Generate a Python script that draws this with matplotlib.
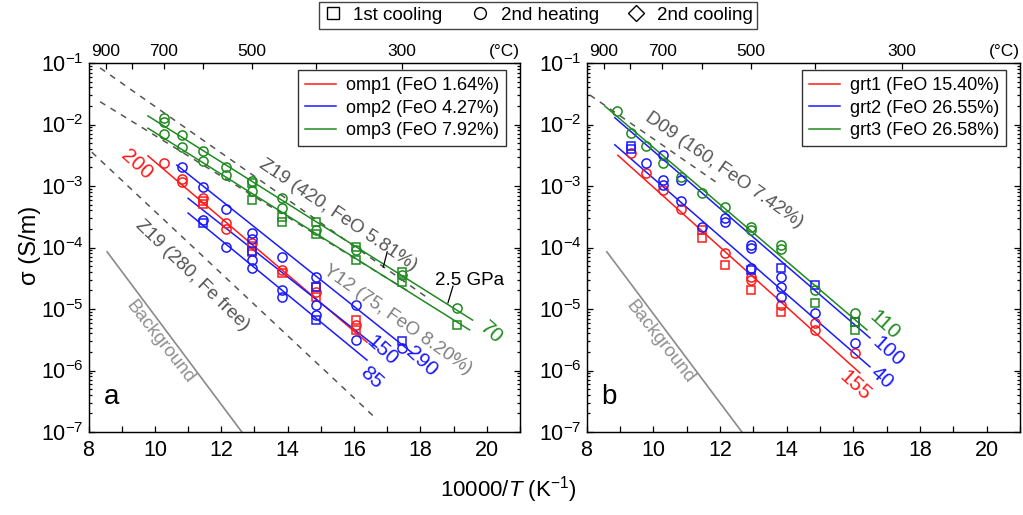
import numpy as np
import matplotlib
matplotlib.use("Agg")
import matplotlib.pyplot as plt
from matplotlib.lines import Line2D
from matplotlib.ticker import MultipleLocator, LogLocator, NullFormatter

plt.rcParams['font.family'] = ['Liberation Sans', 'DejaVu Sans']
plt.rcParams['mathtext.fontset'] = 'custom'
plt.rcParams['mathtext.rm'] = 'Liberation Sans'
plt.rcParams['mathtext.it'] = 'Liberation Sans:italic'

RED, BLUE, GREEN = '#ff1a1a', '#1a1aff', '#1f8a1f'
GRAY_D, GRAY_L = '#555555', '#8a8a8a'

# ---------------- data: panel a (omphacite) ----------------
omp1_circ_x = [10.28, 10.83, 10.83, 11.45, 12.14, 12.14, 12.93, 13.83, 14.86, 16.05]
omp1_circ_log = [-2.63, -2.88, -2.93, -3.20, -3.60, -3.70, -3.92, -4.37, -4.72, -5.26]
omp1_sq_x = [11.45, 11.45, 12.93, 12.93, 13.83, 14.86, 14.86, 16.05, 16.05]
omp1_sq_log = [-3.24, -3.29, -3.98, -4.07, -4.42, -4.64, -4.80, -5.18, -5.34]

omp2_circ_x = [10.83, 11.45, 11.45, 12.14, 12.14, 12.93, 12.93, 12.93, 12.93, 13.83, 13.83,
               13.83, 14.86, 14.86, 14.86, 16.05, 16.05, 17.45]
omp2_circ_log = [-2.69, -3.02, -3.55, -3.37, -3.99, -3.76, -3.86, -4.20, -4.33, -4.15, -4.69,
                 -4.80, -4.48, -4.93, -5.10, -4.93, -5.50, -5.63]
omp2_sq_x = [11.45, 12.93, 14.86, 14.86, 17.45]
omp2_sq_log = [-3.60, -4.05, -4.65, -5.18, -5.52]

omp3_circ_x = [10.28, 10.28, 10.28, 10.83, 10.83, 11.45, 11.45, 12.14, 12.14, 12.93, 12.93,
               13.83, 13.83, 14.86, 16.05, 17.45, 19.11]
omp3_circ_log = [-1.90, -1.96, -2.15, -2.17, -2.37, -2.43, -2.59, -2.69, -2.82, -2.92, -3.08,
                 -3.20, -3.36, -3.72, -4.04, -4.45, -4.98]
omp3_sq_x = [12.93, 12.93, 13.83, 13.83, 14.86, 14.86, 16.05, 16.05, 17.45, 17.45, 19.11]
omp3_sq_log = [-2.95, -3.23, -3.50, -3.58, -3.59, -3.78, -3.99, -4.20, -4.40, -4.56, -5.26]

# fit lines: (x0, x1, log0, log1)
omp1_fit = [(9.79, 16.39, -2.51, -5.54)]
omp2_fit = [(10.66, 17.77, -2.66, -5.72), (11.0, 16.68, -3.20, -5.62), (11.0, 16.39, -3.44, -5.83)]
omp3_fit = [(9.79, 19.57, -1.86, -5.18), (9.79, 19.48, -2.06, -5.34)]

refA_dashed = [(8.35, 18.3, -1.08, -4.85),   # Z19 (420)
               (8.35, 17.6, -1.63, -4.70),   # Y12 (75)
               (8.10, 16.7, -2.45, -6.80)]   # Z19 (280)
bgA = (8.56, 12.62, -4.07, -7.0)

# ---------------- data: panel b (garnet) ----------------
grt1_circ_x = [9.32, 9.78, 10.28, 10.83, 12.14, 12.93, 12.93, 13.83, 14.86, 14.86, 16.05]
grt1_circ_log = [-2.46, -2.79, -3.07, -3.37, -4.09, -4.48, -4.53, -4.93, -5.23, -5.34, -5.72]
grt1_sq_x = [11.45, 11.45, 12.14, 12.93, 13.83]
grt1_sq_log = [-3.72, -3.85, -4.28, -4.69, -5.05]

grt2_circ_x = [9.78, 10.28, 10.28, 10.28, 10.83, 10.83, 11.45, 12.14, 12.14, 12.93, 12.93,
               12.93, 13.83, 13.83, 13.83, 14.86, 16.05]
grt2_circ_log = [-2.63, -2.50, -2.90, -2.98, -2.90, -3.24, -3.67, -3.52, -3.58, -3.96, -4.01,
                 -4.33, -4.48, -4.64, -4.80, -5.07, -5.55]
grt2_sq_x = [9.32, 9.32, 12.93, 13.83, 14.86, 16.05]
grt2_sq_log = [-2.35, -2.40, -4.36, -4.33, -4.61, -5.21]

grt3_circ_x = [8.90, 9.32, 9.78, 10.28, 10.83, 11.45, 12.14, 12.93, 12.93, 13.83, 13.83, 14.86, 16.05]
grt3_circ_log = [-1.78, -2.14, -2.35, -2.63, -2.85, -3.11, -3.34, -3.67, -3.72, -3.96, -4.02, -4.69, -5.07]
grt3_sq_x = [14.86, 16.05, 16.05]
grt3_sq_log = [-4.90, -5.21, -5.34]

grt1_fit = [(8.94, 16.20, -2.50, -6.04)]
grt2_fit = [(8.85, 16.50, -1.89, -5.47), (8.85, 16.50, -2.33, -5.94)]
grt3_fit = [(8.55, 16.41, -1.70, -5.34)]

refB_dashed = [(8.10, 12.0, -1.52, -2.98)]   # D09
bgB = (8.61, 12.66, -4.07, -7.0)

top_major_T = [900, 700, 500, 300]
top_minor_T = [800, 600, 400]

legendA = ['omp1 (FeO 1.64%)', 'omp2 (FeO 4.27%)', 'omp3 (FeO 7.92%)']
legendB = ['grt1 (FeO 15.40%)', 'grt2 (FeO 26.55%)', 'grt3 (FeO 26.58%)']

W, H = 1023, 515
fig = plt.figure(figsize=(W / 100, H / 100), dpi=100)
axA = fig.add_axes([88.5 / W, 1 - 432 / H, (520 - 88.5) / W, 369 / H])
axB = fig.add_axes([586.5 / W, 1 - 432 / H, (1020 - 586.5) / W, 369 / H])


def seg(ax, s, **kw):
    x0, x1, l0, l1 = s
    ax.plot([x0, x1], [10 ** l0, 10 ** l1], **kw)


def pts(ax, x, logs, marker, color):
    ax.plot(x, np.power(10.0, logs), ls='none', marker=marker, ms=6.6 if marker == 'o' else 5.8,
            mfc='none', mec=color, mew=1.1, zorder=3)


def style(ax):
    ax.set_yscale('log')
    ax.set_xlim(8, 21)
    ax.set_ylim(1e-7, 1e-1)
    ax.xaxis.set_major_locator(MultipleLocator(2))
    ax.xaxis.set_minor_locator(MultipleLocator(1))
    ax.yaxis.set_major_locator(LogLocator(base=10, numticks=10))
    ax.yaxis.set_minor_locator(LogLocator(base=10, subs=np.arange(2, 10), numticks=10))
    ax.yaxis.set_minor_formatter(NullFormatter())
    ax.tick_params(which='both', direction='in', right=True, top=False, labelsize=15.5, width=0.9)
    ax.tick_params(axis='x', which='both', pad=6)
    ax.tick_params(which='major', length=4.5)
    ax.tick_params(which='minor', length=2.5)
    ax.tick_params(axis='x', which='minor', length=4.5)
    for sp in ax.spines.values():
        sp.set_linewidth(1.0)
        sp.set_color('#222222')
    top = ax.twiny()
    top.set_xlim(8, 21)
    top.set_xticks([10000 / (t + 273.15) for t in top_major_T])
    top.set_xticklabels([str(t) for t in top_major_T])
    top.set_xticks([10000 / (t + 273.15) for t in top_minor_T], minor=True)
    top.tick_params(which='both', direction='in', length=4.5, labelsize=12.5, pad=3, width=0.9)
    ax.text(1.0, 1.011, '(°C)', transform=ax.transAxes, ha='right', va='bottom', fontsize=12.5)


def rtext(ax, x, lg, s, color, rot, fs=15, **kw):
    ax.text(x, 10 ** lg, s, color=color, rotation=rot, ha='center', va='center', fontsize=fs,
            rotation_mode='anchor', **kw)


LEG_KW = dict(loc='upper right', bbox_to_anchor=(0.968, 0.981), fontsize=13, frameon=True,
              fancybox=False, edgecolor='#333333', framealpha=1, handlelength=1.7,
              borderpad=0.4, labelspacing=0.3, handletextpad=0.55, borderaxespad=0)

# ---------- panel a ----------
for s in refA_dashed:
    seg(axA, s, color=GRAY_D, ls=(0, (4, 4)), lw=1.1)
seg(axA, bgA, color=GRAY_L, lw=1.2)
for fits, c in ((omp1_fit, RED), (omp2_fit, BLUE), (omp3_fit, GREEN)):
    for s in fits:
        seg(axA, s, color=c, lw=1.1)
pts(axA, omp1_circ_x, omp1_circ_log, 'o', RED)
pts(axA, omp1_sq_x, omp1_sq_log, 's', RED)
pts(axA, omp2_circ_x, omp2_circ_log, 'o', BLUE)
pts(axA, omp2_sq_x, omp2_sq_log, 's', BLUE)
pts(axA, omp3_circ_x, omp3_circ_log, 'o', GREEN)
pts(axA, omp3_sq_x, omp3_sq_log, 's', GREEN)
style(axA)
axA.legend([Line2D([], [], color=c, lw=1.1) for c in (RED, BLUE, GREEN)], legendA, **LEG_KW)

rtext(axA, 9.46, -2.66, '200', RED, -42)
rtext(axA, 20.14, -5.39, '70', GREEN, -42)
rtext(axA, 16.84, -5.67, '150', BLUE, -42)
rtext(axA, 18.04, -5.86, '290', BLUE, -42)
rtext(axA, 16.53, -6.12, '85', BLUE, -42)
rtext(axA, 15.51, -3.47, 'Z19 (420, FeO 5.81%)', '#555555', -34, fs=13.5)
rtext(axA, 17.31, -5.18, 'Y12 (75, FeO 8.20%)', '#808080', -35, fs=13.5)
rtext(axA, 11.14, -4.45, 'Z19 (280, Fe free)', '#555555', -44, fs=13.5)
rtext(axA, 10.16, -5.54, 'Background', '#909090', -52, fs=13.5)
rtext(axA, 19.48, -4.54, '2.5 GPa', 'black', 0, fs=13.5)
axA.plot([18.98, 18.83], [10 ** -4.63, 10 ** -4.90], color='black', lw=0.9)
axA.plot([17.0, 16.88], [10 ** -4.07, 10 ** -4.32], color='black', lw=0.9)
axA.text(0.035, 0.06, 'a', transform=axA.transAxes, fontsize=20, ha='left', va='bottom')

# ---------- panel b ----------
for s in refB_dashed:
    seg(axB, s, color=GRAY_D, ls=(0, (4, 4)), lw=1.1)
seg(axB, bgB, color=GRAY_L, lw=1.2)
for fits, c in ((grt1_fit, RED), (grt2_fit, BLUE), (grt3_fit, GREEN)):
    for s in fits:
        seg(axB, s, color=c, lw=1.1)
pts(axB, grt1_circ_x, grt1_circ_log, 'o', RED)
pts(axB, grt1_sq_x, grt1_sq_log, 's', RED)
pts(axB, grt2_circ_x, grt2_circ_log, 'o', BLUE)
pts(axB, grt2_sq_x, grt2_sq_log, 's', BLUE)
pts(axB, grt3_circ_x, grt3_circ_log, 'o', GREEN)
pts(axB, grt3_sq_x, grt3_sq_log, 's', GREEN)
style(axB)
axB.legend([Line2D([], [], color=c, lw=1.1) for c in (RED, BLUE, GREEN)], legendB, **LEG_KW)
rtext(axB, 16.95, -5.26, '110', GREEN, -42)
rtext(axB, 17.04, -5.70, '100', BLUE, -42)
rtext(axB, 16.86, -6.11, '40', BLUE, -42)
rtext(axB, 16.05, -6.24, '155', RED, -42)
rtext(axB, 12.12, -2.74, 'D09 (160, FeO 7.42%)', '#555555', -35, fs=13.5)
rtext(axB, 10.20, -5.54, 'Background', '#909090', -52, fs=13.5)
axB.text(0.035, 0.06, 'b', transform=axB.transAxes, fontsize=20, ha='left', va='bottom')

# labels
fig.text(30 / W, 1 - 245 / H, 'σ (S/m)', rotation=90, ha='center', va='center', fontsize=17)
fig.text(508 / W, 1 - 490 / H, '10000/$T$ (K$^{-1}$)', ha='center', va='center', fontsize=16)

# top legend
mk = dict(ls='none', mfc='none', mec='black', mew=1.0)
h = [Line2D([], [], marker='s', ms=8, **mk), Line2D([], [], marker='o', ms=8.5, **mk),
     Line2D([], [], marker='D', ms=8, **mk)]
fig.legend(h, ['1st cooling', '2nd heating', '2nd cooling'], loc='upper center', ncol=3,
           bbox_to_anchor=(538 / W, 1 - 2 / H), fontsize=13.5, frameon=True, fancybox=False,
           edgecolor='#444444', framealpha=1, handlelength=1.0, columnspacing=1.5,
           handletextpad=0.6, borderpad=0.25, borderaxespad=0)

fig.savefig('out.png', dpi=100)
